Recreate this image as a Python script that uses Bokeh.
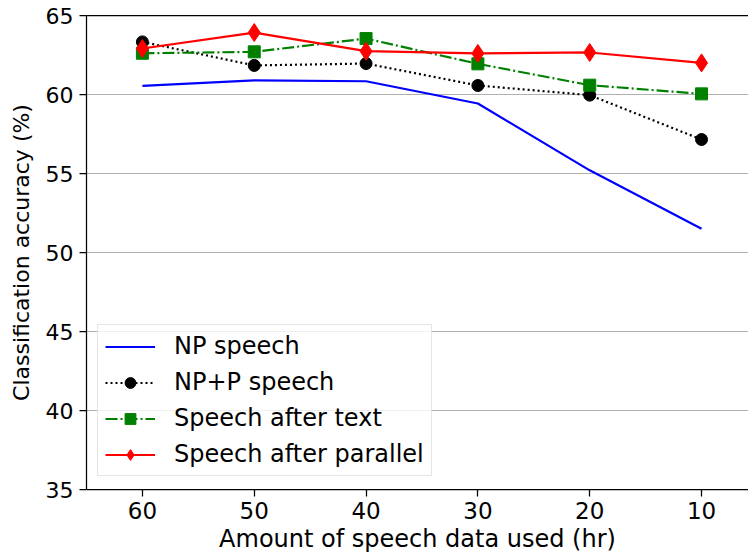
from bokeh.plotting import figure
from bokeh.models import Range1d, FixedTicker, LinearAxis, Legend, LegendItem
from bokeh.embed import file_html
from bokeh.resources import INLINE

# Hours of speech data used for training
hours = [60, 50, 40, 30, 20, 10]

# Classification accuracy (%) for each training setup
np_speech = [60.55, 60.9, 60.84, 59.43, 55.2, 51.5]
npp_speech = [63.33, 61.84, 61.96, 60.57, 59.96, 57.15]
after_text = [62.61, 62.7, 63.54, 61.94, 60.59, 60.04]
after_parallel = [62.91, 63.92, 62.74, 62.6, 62.66, 62.0]

x_ticks = [60, 50, 40, 30, 20, 10]
y_ticks = [35, 40, 45, 50, 55, 60, 65]

FONT = "DejaVu Sans"

p = figure(width=748, height=556, output_backend="svg", toolbar_location=None,
           x_range=Range1d(65, 5.8), y_range=Range1d(35, 65),
           min_border_left=86, min_border_right=0, min_border_top=15,
           min_border_bottom=67)
p.background_fill_color = "white"
p.border_fill_color = "white"
p.outline_line_color = None

# Axes styling
for ax in (p.xaxis[0], p.yaxis[0]):
    ax.axis_line_color = "black"
    ax.axis_line_width = 1.25
    ax.major_tick_line_color = "black"
    ax.major_tick_line_width = 1.25
    ax.major_tick_in = 0
    ax.major_tick_out = 7
    ax.minor_tick_line_color = None
    ax.major_label_text_font = FONT
    ax.major_label_text_color = "black"
    ax.axis_label_text_font = FONT
    ax.axis_label_text_font_style = "normal"
    ax.axis_label_text_color = "black"

p.xaxis[0].ticker = FixedTicker(ticks=x_ticks)
p.yaxis[0].ticker = FixedTicker(ticks=y_ticks)
p.xaxis[0].axis_label = "Amount of speech data used (hr)"
p.yaxis[0].axis_label = "Classification accuracy (%)"
p.xaxis[0].major_label_text_font_size = "23px"
p.yaxis[0].major_label_text_font_size = "22px"
p.xaxis[0].axis_label_text_font_size = "24px"
p.yaxis[0].axis_label_text_font_size = "22px"
p.xaxis[0].major_label_standoff = 5
p.yaxis[0].major_label_standoff = 6
p.xaxis[0].axis_label_standoff = 3
p.yaxis[0].axis_label_standoff = 9

# Top spine
top = LinearAxis(ticker=FixedTicker(ticks=[]), major_label_text_font_size="0px",
                 major_tick_line_color=None, minor_tick_line_color=None,
                 axis_line_color="black", axis_line_width=1.25)
p.add_layout(top, "above")

# Grid
p.xgrid.grid_line_color = None
p.ygrid.ticker = FixedTicker(ticks=y_ticks)
p.ygrid.grid_line_color = "#b0b0b0"
p.ygrid.grid_line_width = 1

# Series
r1 = p.line(hours, np_speech, line_color="#0000ff", line_width=2.2)

r2l = p.line(hours, npp_speech, line_color="black", line_width=2.2, line_dash="2 3")
r2m = p.scatter(hours, npp_speech, marker="circle", size=12,
                fill_color="black", line_color="black")

r3l = p.line(hours, after_text, line_color="#008000", line_width=2.2,
             line_dash="12 3 2 3")
r3m = p.scatter(hours, after_text, marker="square", size=12,
                fill_color="#008000", line_color="#008000")

r4l = p.line(hours, after_parallel, line_color="#ff0000", line_width=2.2)
r4m = p.scatter(hours, after_parallel, marker="diamond", size=18,
                fill_color="#ff0000", line_color="#ff0000")

legend = Legend(items=[
    LegendItem(label="NP speech", renderers=[r1]),
    LegendItem(label="NP+P speech", renderers=[r2l, r2m]),
    LegendItem(label="Speech after text", renderers=[r3l, r3m]),
    LegendItem(label="Speech after parallel", renderers=[r4l, r4m]),
], location=(11, 13))
legend.label_text_font = FONT
legend.label_text_font_size = "24px"
legend.label_text_color = "black"
legend.glyph_width = 50
legend.glyph_height = 27
legend.label_height = 27
legend.label_standoff = 19
legend.spacing = 8
legend.padding = 7
legend.margin = 0
legend.border_line_color = "#cccccc"
legend.border_line_width = 1
legend.background_fill_color = "white"
legend.background_fill_alpha = 0.8
p.add_layout(legend, "center")

open("out.html", "w").write(file_html(p, INLINE))
